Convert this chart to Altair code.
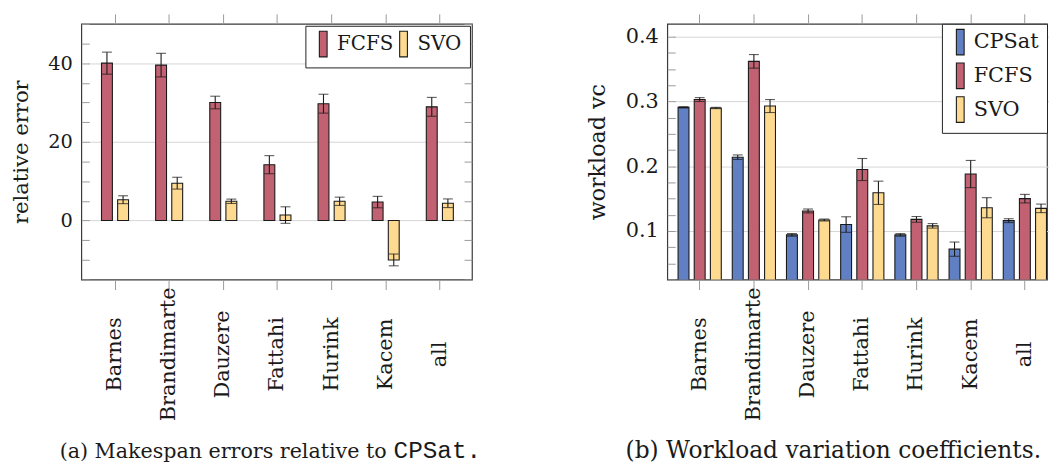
import altair as alt
import pandas as pd

categories = ["Barnes", "Brandimarte", "Dauzere", "Fattahi", "Hurink", "Kacem", "all"]

# (a) Makespan errors relative to CPSat
err_series = ["FCFS", "SVO"]
err_fcfs = [40.0, 39.5, 30.0, 14.2, 29.7, 4.7, 28.9]
err_fcfs_sd = [2.8, 3.0, 1.6, 2.3, 2.4, 1.45, 2.4]
err_svo = [5.3, 9.5, 4.9, 1.4, 4.9, -10.0, 4.4]
err_svo_sd = [1.0, 1.5, 0.55, 2.1, 1.05, 1.5, 1.1]

# (b) Workload variation coefficients
wvc_series = ["CPSat", "FCFS", "SVO"]
wvc_cpsat = [0.291, 0.214, 0.094, 0.110, 0.094, 0.072, 0.116]
wvc_cpsat_sd = [0.001, 0.0035, 0.002, 0.012, 0.002, 0.011, 0.003]
wvc_fcfs = [0.303, 0.362, 0.131, 0.195, 0.118, 0.188, 0.150]
wvc_fcfs_sd = [0.003, 0.0105, 0.003, 0.017, 0.0045, 0.021, 0.0066]
wvc_svo = [0.290, 0.293, 0.117, 0.159, 0.108, 0.136, 0.135]
wvc_svo_sd = [0.001, 0.010, 0.0015, 0.018, 0.0035, 0.0155, 0.0066]

colors = {"CPSat": "#6180c4", "FCFS": "#c16171", "SVO": "#fed990"}

FONT = "DejaVu Serif"
MONO = "Liberation Mono"
H = 258
TICK_GRAY = "#9a9a9a"
INK = "#1a1a1a"


def long_df(names, values, sds):
    rows = []
    for s, vals, sd in zip(names, values, sds):
        for c, v, d in zip(categories, vals, sd):
            rows.append({"cat": c, "series": s, "value": v, "sd": d})
    return pd.DataFrame(rows)


def panel(df, series, W, xrange, ydomain, major, minor, ytitle, legend, xo_pad, sizes,
          captions, right_ticks=True):
    tick_fs, title_fs = sizes
    x_scale = alt.Scale(domain=categories, paddingInner=0, paddingOuter=0, range=xrange)
    y_scale = alt.Scale(domain=ydomain, zero=False, nice=False)
    xo = alt.XOffset("series:N",
                     scale=alt.Scale(domain=series, paddingInner=0.325, paddingOuter=xo_pad))
    base = alt.Chart(df).transform_calculate(
        lo="datum.value - datum.sd", hi="datum.value + datum.sd")

    bars = base.mark_bar(stroke=INK, strokeWidth=1.1, clip=True).encode(
        x=alt.X("cat:N", sort=categories, scale=x_scale,
                axis=alt.Axis(orient="bottom", title=None, labelAngle=270, labelAlign="center",
                              labelBaseline="middle", labelPadding=65, tickSize=10,
                              tickColor=TICK_GRAY, tickWidth=1, domain=False,
                              labelFontSize=21, labelOverlap=False)),
        xOffset=xo,
        y=alt.Y("value:Q", scale=y_scale,
                axis=alt.Axis(values=major, title=ytitle, grid=True, gridColor="#d6d6d6",
                              gridWidth=1, ticks=False, domain=False, labelPadding=9,
                              labelFontSize=tick_fs, titleFontSize=title_fs, titlePadding=16)),
        y2=alt.datum(0),
        color=alt.Color("series:N", scale=alt.Scale(domain=series, range=[colors[s] for s in series]),
                        legend=legend),
    )

    rules = base.mark_rule(color=INK, strokeWidth=1.1).encode(
        x=alt.X("cat:N", sort=categories, scale=x_scale,
                axis=alt.Axis(orient="top", labels=False, title=None, tickSize=10,
                              tickColor=TICK_GRAY, tickWidth=1, domain=False)),
        xOffset=xo,
        y=alt.Y("lo:Q", scale=y_scale,
                axis=alt.Axis(orient="right", offset=-W, values=minor, labels=False, title=None,
                              grid=False, domain=False, tickSize=8, tickColor=TICK_GRAY)),
        y2="hi:Q",
    )

    lo_axis = None
    if right_ticks:
        lo_axis = alt.Axis(orient="left", offset=-W, values=minor, labels=False, title=None,
                           grid=False, domain=False, tickSize=8, tickColor=TICK_GRAY)
    caps_lo = base.mark_tick(color=INK, thickness=1.1, size=10).encode(
        x=alt.X("cat:N", sort=categories, scale=x_scale, axis=None),
        xOffset=xo,
        y=alt.Y("lo:Q", scale=y_scale, axis=lo_axis),
    )
    caps_hi = base.mark_tick(color=INK, thickness=1.1, size=10).encode(
        x=alt.X("cat:N", sort=categories, scale=x_scale, axis=None),
        xOffset=xo,
        y=alt.Y("hi:Q", scale=y_scale, axis=None),
    )

    layers = [bars, rules, caps_lo, caps_hi]
    for text, font, fs, align, cx in captions:
        layers.append(alt.Chart(pd.DataFrame({"t": [text]})).mark_text(
            font=font, fontSize=fs, align=align, baseline="alphabetic", color=INK).encode(
            text="t:N", x=alt.value(cx), y=alt.value(438)))

    return alt.layer(*layers).resolve_axis(x="independent", y="independent").properties(
        width=W, height=H)


thin_bar = "M-1,-3.3H1V3.3H-1Z"

legend_a = alt.Legend(title=None, orient="top-right", offset=2, direction="horizontal",
                      symbolType=thin_bar, symbolSize=61, symbolStrokeColor=INK,
                      symbolStrokeWidth=1.1, symbolOpacity=1, labelFont=FONT, labelFontSize=20,
                      labelColor=INK, labelOffset=4, columnPadding=0, padding=8,
                      strokeColor="#222", fillColor="white")
legend_b = alt.Legend(title=None, orient="top-right", offset=0, direction="vertical",
                      symbolType=thin_bar, symbolSize=61, symbolStrokeColor=INK,
                      symbolStrokeWidth=1.1, symbolOpacity=1, labelFont=FONT, labelFontSize=21,
                      labelColor=INK, labelOffset=3, rowPadding=3,
                      padding=8, strokeColor="#222", fillColor="white")

df_a = long_df(err_series, [err_fcfs, err_svo], [err_fcfs_sd, err_svo_sd])
df_b = long_df(wvc_series, [wvc_cpsat, wvc_fcfs, wvc_svo], [wvc_cpsat_sd, wvc_fcfs_sd, wvc_svo_sd])

left = panel(df_a, err_series, 394, [6.7, 388.9], [-15, 50], [0, 20, 40],
             list(range(-15, 51, 5)),
             "relative error", legend_a, 0.84, (19.5, 21.3),
             [("(a) Makespan errors relative to", FONT, 20.8, "right", 308),
              ("CPSat.", MONO, 24.5, "left", 315)])
right = panel(df_b, wvc_series, 383, [5.35, 388.0], [0.025, 0.42], [0.1, 0.2, 0.3, 0.4],
              [round(0.025 * i, 3) for i in range(1, 17)],
              "workload vc", legend_b, 0.34, (21, 22.4),
              [("(b) Workload variation coefficients.", FONT, 23.5, "center", 167.5)],
              right_ticks=False)

chart = alt.hconcat(left, right, spacing=105).resolve_scale(
    color="independent", x="independent", y="independent", xOffset="independent"
).properties(
    padding={"left": 10, "top": 10, "right": 0, "bottom": 0}
).configure(font=FONT).configure_view(stroke="#3a3a3a", strokeWidth=1.2).configure_axis(
    labelFont=FONT, titleFont=FONT, labelColor=INK, titleColor=INK, titleFontWeight="normal"
).configure_legend(labelFont=FONT)

chart.save("out.html", embed_options={"renderer": "svg", "actions": False})
